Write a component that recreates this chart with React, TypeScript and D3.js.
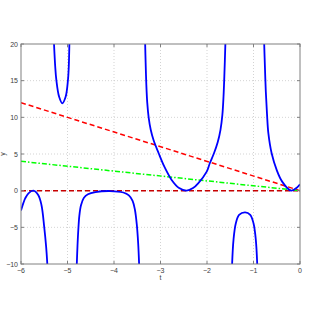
import { useEffect, useRef } from 'react';
import * as d3 from 'd3';

// branches of the blue curve, [t, y]
const branch1: [number, number][] = [[-6, -2.7], [-5.95, -1.7], [-5.91, -1.05], [-5.84, -0.36], [-5.735, 0], [-5.63, -0.6], [-5.56, -1.95], [-5.5, -5], [-5.46, -7.6], [-5.434, -10]];
const branch2: [number, number][] = [[-5.29, 20], [-5.265, 17], [-5.24, 15.1], [-5.18, 12.8], [-5.112, 11.9], [-5.04, 12.8], [-4.99, 15.1], [-4.972, 17], [-4.96, 20]];
const branch3: [number, number][] = [[-4.8, -10], [-4.785, -7.5], [-4.768, -5.4], [-4.745, -3.4], [-4.71, -2.0], [-4.65, -1.0], [-4.56, -0.5], [-4.4, -0.2], [-4.09, -0.05], [-3.8, -0.25], [-3.68, -0.65], [-3.6, -1.4], [-3.55, -2.6], [-3.51, -4.6], [-3.48, -7.2], [-3.46, -10]];
const branch4: [number, number][] = [[-3.33, 20], [-3.32, 17.5], [-3.305, 14.5], [-3.285, 12], [-3.255, 10], [-3.21, 8.3], [-3.15, 6.9], [-3.04, 5.1], [-2.92, 3.3], [-2.76, 1.46], [-2.6, 0.35], [-2.44, 0], [-2.3, 0.35], [-2.19, 1.0], [-2.006, 2.6], [-1.94, 3.74], [-1.85, 5.1], [-1.77, 6.6], [-1.71, 8.3], [-1.67, 10.3], [-1.645, 12.8], [-1.625, 16], [-1.605, 20]];
const branch5: [number, number][] = [[-0.77, 20], [-0.755, 17], [-0.735, 13.5], [-0.71, 10.5], [-0.68, 7.8], [-0.61, 5.1], [-0.5, 2.8], [-0.38, 1.2], [-0.194, 0], [-0.07, 0.4], [0, 0.87]];
const branch6: [number, number][] = [[-1.46, -10], [-1.43, -6.7], [-1.38, -4.45], [-1.31, -3.3], [-1.18, -2.95], [-1.07, -3.3], [-1, -4.45], [-0.95, -6.7], [-0.92, -10]];

const lineT = [-6, 0];
const redLine = [12, 0];
const greenLine = [4, 0];
const zeroLine = [0, 0];

const xTicks = [-6, -5, -4, -3, -2, -1, 0];
const yTicks = [-10, -5, 0, 5, 10, 15, 20];

export default function App() {
  const svgRef = useRef<SVGSVGElement>(null);

  useEffect(() => {
    if (!svgRef.current) return;
    const svg = d3.select(svgRef.current);
    svg.selectAll('*').remove();

    const left = 21, right = 300, top = 44, bottom = 264;
    const x = d3.scaleLinear().domain([-6, 0]).range([left, right]);
    const y = d3.scaleLinear().domain([-10, 20]).range([bottom, top]);

    svg.append('rect').attr('width', 314).attr('height', 319).attr('fill', '#fff');

    // grid
    const grid = svg.append('g').attr('stroke', '#c8c8c8').attr('stroke-width', 0.8).attr('stroke-dasharray', '1,2');
    xTicks.slice(1, -1).forEach(t => {
      grid.append('line').attr('x1', x(t)).attr('x2', x(t)).attr('y1', top).attr('y2', bottom);
    });
    yTicks.slice(1, -1).forEach(v => {
      grid.append('line').attr('x1', left).attr('x2', right).attr('y1', y(v)).attr('y2', y(v));
    });

    const clip = svg.append('clipPath').attr('id', 'plotclip');
    clip.append('rect').attr('x', left).attr('y', top).attr('width', right - left).attr('height', bottom - top);

    const plot = svg.append('g').attr('clip-path', 'url(#plotclip)');

    const straight = (vals: number[]) => lineT.map((t, i) => [t, vals[i]] as [number, number]);
    const line = d3.line<[number, number]>().x(d => x(d[0])).y(d => y(d[1]));
    const curve = d3.line<[number, number]>().x(d => x(d[0])).y(d => y(d[1])).curve(d3.curveCatmullRom.alpha(0.5));

    plot.append('path').datum(straight(zeroLine)).attr('d', line)
      .attr('fill', 'none').attr('stroke', '#c80000').attr('stroke-width', 1.5).attr('stroke-dasharray', '5,3');
    plot.append('path').datum(straight(redLine)).attr('d', line)
      .attr('fill', 'none').attr('stroke', '#ff0000').attr('stroke-width', 1.5).attr('stroke-dasharray', '5,3');
    plot.append('path').datum(straight(greenLine)).attr('d', line)
      .attr('fill', 'none').attr('stroke', '#00ff00').attr('stroke-width', 1.5).attr('stroke-dasharray', '5,2,1.5,2');

    [branch1, branch2, branch3, branch4, branch5, branch6].forEach(b => {
      plot.append('path').datum(b).attr('d', curve)
        .attr('fill', 'none').attr('stroke', '#0000ff').attr('stroke-width', 1.8);
    });

    // box and ticks
    const axis = svg.append('g').attr('stroke', '#808080').attr('stroke-width', 1);
    axis.append('rect').attr('x', left).attr('y', top).attr('width', right - left).attr('height', bottom - top).attr('fill', 'none');
    xTicks.forEach(t => {
      axis.append('line').attr('x1', x(t)).attr('x2', x(t)).attr('y1', bottom).attr('y2', bottom - 3);
      axis.append('line').attr('x1', x(t)).attr('x2', x(t)).attr('y1', top).attr('y2', top + 3);
    });
    yTicks.forEach(v => {
      axis.append('line').attr('x1', left).attr('x2', left + 3).attr('y1', y(v)).attr('y2', y(v));
      axis.append('line').attr('x1', right).attr('x2', right - 3).attr('y1', y(v)).attr('y2', y(v));
    });

    const labels = svg.append('g').attr('font-family', 'Liberation Sans, Arial, sans-serif').attr('font-size', 7).attr('fill', '#404040');
    xTicks.forEach(t => {
      labels.append('text').attr('x', x(t)).attr('y', bottom + 9).attr('text-anchor', 'middle').text(String(t).replace('-', '\u2212'));
    });
    yTicks.forEach(v => {
      labels.append('text').attr('x', left - 3).attr('y', y(v) + 2.5).attr('text-anchor', 'end').text(String(v).replace('-', '\u2212'));
    });
    labels.append('text').attr('x', (left + right) / 2).attr('y', bottom + 16).attr('text-anchor', 'middle').text('t');
    labels.append('text').attr('transform', `translate(5,${(top + bottom) / 2}) rotate(-90)`).attr('text-anchor', 'middle').text('y');
  }, []);

  return (
    <div style={{ position: 'absolute', left: 0, top: 0 }}>
      <svg ref={svgRef} width={314} height={319} style={{ display: 'block' }}></svg>
    </div>
  );
}
